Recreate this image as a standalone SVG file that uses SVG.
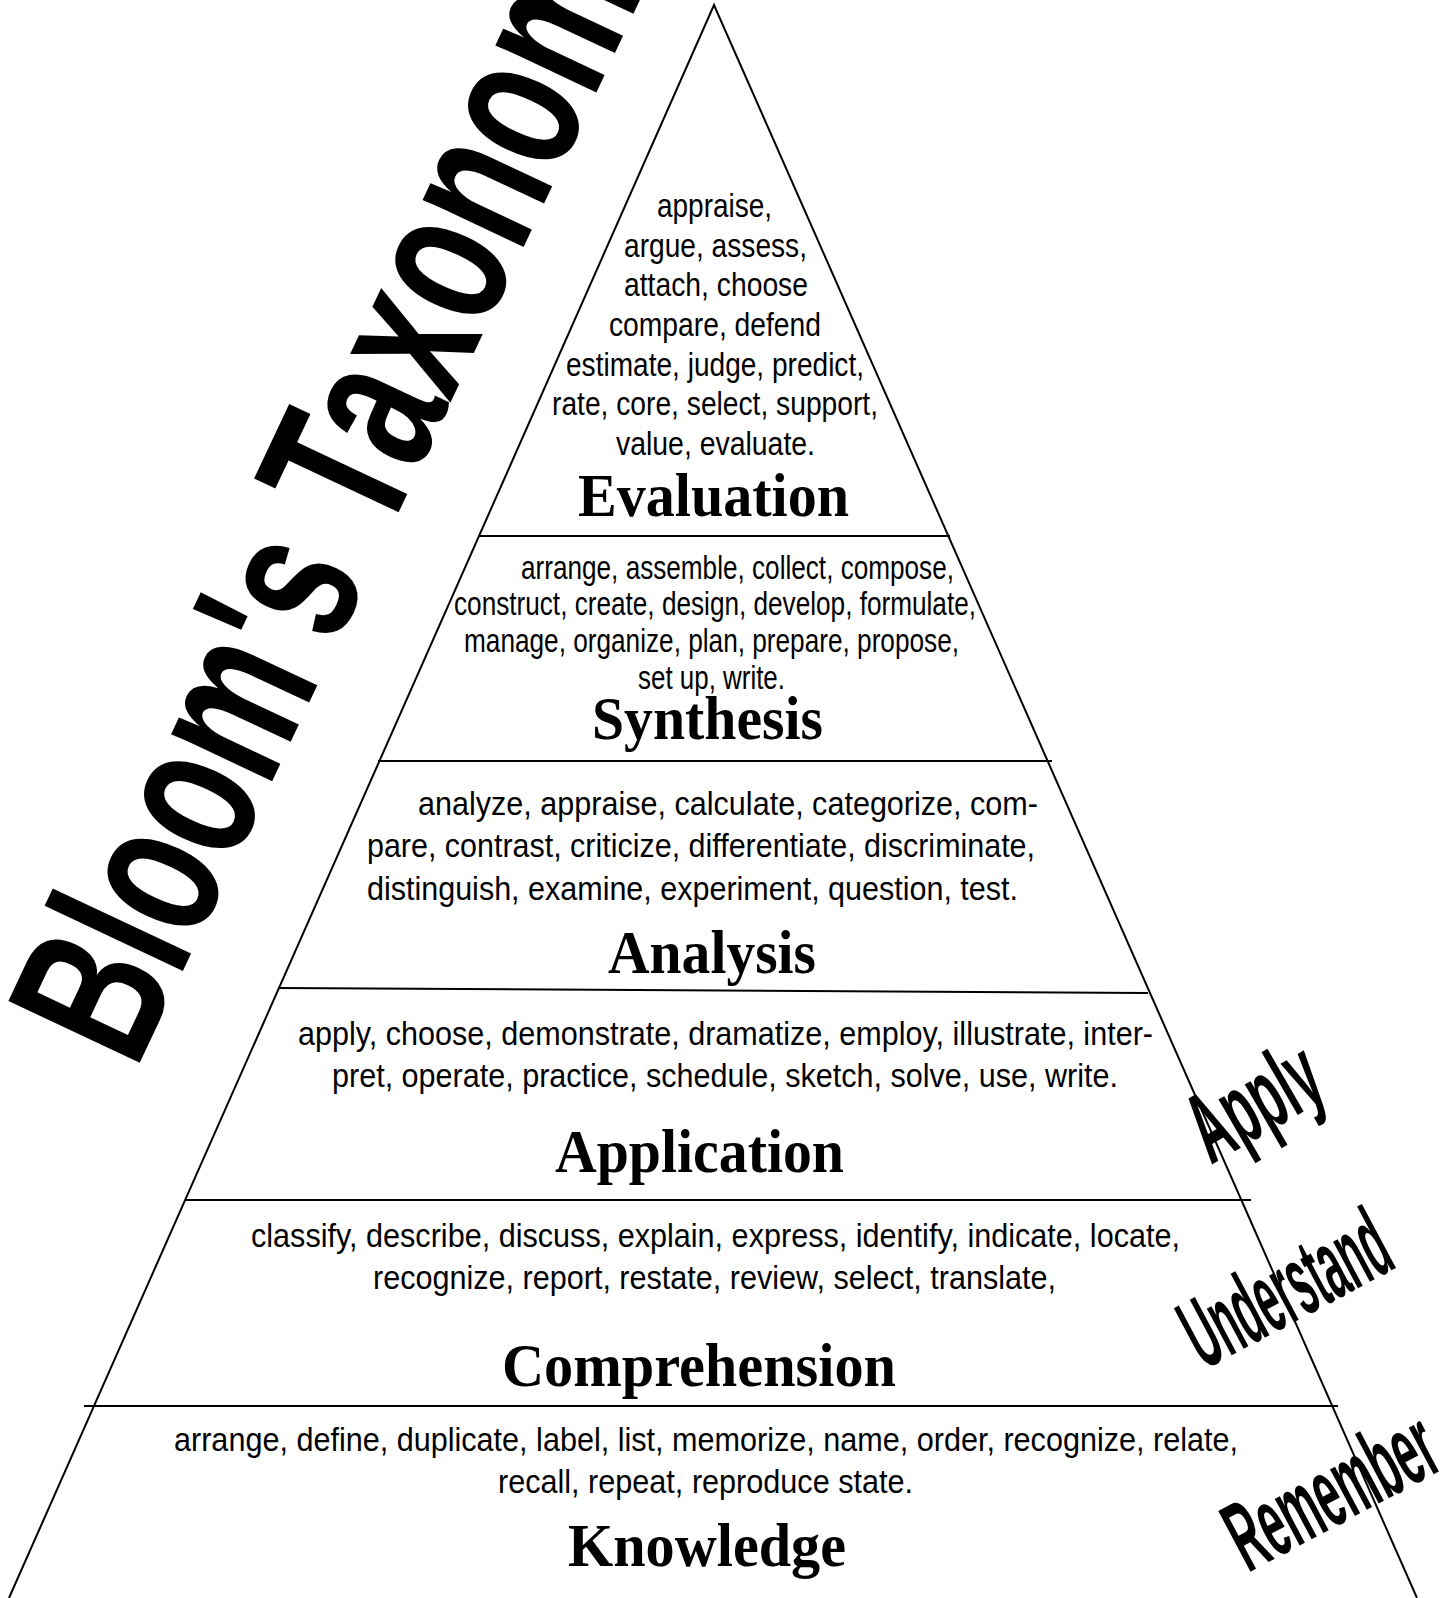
<svg xmlns="http://www.w3.org/2000/svg" width="1452" height="1598" viewBox="0 0 1452 1598">
<style>
.edge{fill:none;stroke:#000;stroke-width:2}
.words{font-family:"Liberation Sans",Arial,sans-serif;font-size:34px;fill:#000}
.head{font-family:"Liberation Serif","Times New Roman",serif;font-weight:bold;font-size:62px;fill:#000}
.side{font-family:"Liberation Sans",Arial,sans-serif;font-weight:bold;font-size:100px;fill:#000}
.title{font-family:"Liberation Sans",Arial,sans-serif;font-weight:bold;font-size:211px;fill:#000}
</style>
<rect width="1452" height="1598" fill="#fff"/>
<g id="title">
<text class="title" transform="translate(135.7,1071.2) rotate(-64.8) scale(0.663,1)">Bloom's Taxonomy</text>
</g>
<g id="connectors">
<polyline class="edge" points="9,1598 714,5 1417,1598"/>
<line class="edge" x1="479" y1="536" x2="950" y2="536"/>
<line class="edge" x1="378" y1="761" x2="1052" y2="761"/>
<line class="edge" x1="278" y1="988" x2="1148" y2="993"/>
<line class="edge" x1="185" y1="1200" x2="1251" y2="1200"/>
<line class="edge" x1="84" y1="1406" x2="1338" y2="1406"/>
</g>
<g id="evaluation">
<text class="words" x="657" y="217" textLength="115" lengthAdjust="spacingAndGlyphs">appraise,</text>
<text class="words" x="624" y="257" textLength="183" lengthAdjust="spacingAndGlyphs">argue, assess,</text>
<text class="words" x="624" y="296" textLength="184" lengthAdjust="spacingAndGlyphs">attach, choose</text>
<text class="words" x="609" y="336" textLength="212" lengthAdjust="spacingAndGlyphs">compare, defend</text>
<text class="words" x="566" y="376" textLength="298" lengthAdjust="spacingAndGlyphs">estimate, judge, predict,</text>
<text class="words" x="552" y="415" textLength="326" lengthAdjust="spacingAndGlyphs">rate, core, select, support,</text>
<text class="words" x="616" y="455" textLength="199" lengthAdjust="spacingAndGlyphs">value, evaluate.</text>
<text class="head" x="578" y="516" textLength="271" lengthAdjust="spacingAndGlyphs">Evaluation</text>
</g>
<g id="synthesis">
<text class="words" x="521" y="579" textLength="433" lengthAdjust="spacingAndGlyphs">arrange, assemble, collect, compose,</text>
<text class="words" x="454" y="615" textLength="522" lengthAdjust="spacingAndGlyphs">construct, create, design, develop, formulate,</text>
<text class="words" x="464" y="652" textLength="495" lengthAdjust="spacingAndGlyphs">manage, organize, plan, prepare, propose,</text>
<text class="words" x="638" y="689" textLength="147" lengthAdjust="spacingAndGlyphs">set up, write.</text>
<text class="head" x="592" y="739" textLength="231" lengthAdjust="spacingAndGlyphs">Synthesis</text>
</g>
<g id="analysis">
<text class="words" x="418" y="815" textLength="620" lengthAdjust="spacingAndGlyphs">analyze, appraise, calculate, categorize, com-</text>
<text class="words" x="367" y="857" textLength="668" lengthAdjust="spacingAndGlyphs">pare, contrast, criticize, differentiate, discriminate,</text>
<text class="words" x="367" y="900" textLength="651" lengthAdjust="spacingAndGlyphs">distinguish, examine, experiment, question, test.</text>
<text class="head" x="608" y="973" textLength="208" lengthAdjust="spacingAndGlyphs">Analysis</text>
</g>
<g id="application">
<text class="words" x="298" y="1045" textLength="855" lengthAdjust="spacingAndGlyphs">apply, choose, demonstrate, dramatize, employ, illustrate, inter-</text>
<text class="words" x="332" y="1087" textLength="786" lengthAdjust="spacingAndGlyphs">pret, operate, practice, schedule, sketch, solve, use, write.</text>
<text class="head" x="555" y="1172" textLength="289" lengthAdjust="spacingAndGlyphs">Application</text>
</g>
<g id="comprehension">
<text class="words" x="251" y="1247" textLength="929" lengthAdjust="spacingAndGlyphs">classify, describe, discuss, explain, express, identify, indicate, locate,</text>
<text class="words" x="373" y="1289" textLength="683" lengthAdjust="spacingAndGlyphs">recognize, report, restate, review, select, translate,</text>
<text class="head" x="502" y="1386" textLength="394" lengthAdjust="spacingAndGlyphs">Comprehension</text>
</g>
<g id="knowledge">
<text class="words" x="174" y="1451" textLength="1064" lengthAdjust="spacingAndGlyphs">arrange, define, duplicate, label, list, memorize, name, order, recognize, relate,</text>
<text class="words" x="498" y="1493" textLength="415" lengthAdjust="spacingAndGlyphs">recall, repeat, reproduce state.</text>
<text class="head" x="568" y="1566" textLength="278" lengthAdjust="spacingAndGlyphs">Knowledge</text>
</g>
<g id="side-labels">
<text class="side" transform="translate(1211,1165) rotate(-30)" textLength="138" lengthAdjust="spacingAndGlyphs">Apply</text>
<text class="side" transform="translate(1204,1370) rotate(-28)" textLength="220" lengthAdjust="spacingAndGlyphs">Understand</text>
<text class="side" transform="translate(1248,1573) rotate(-28)" textLength="224" lengthAdjust="spacingAndGlyphs">Remember</text>
</g>
</svg>
